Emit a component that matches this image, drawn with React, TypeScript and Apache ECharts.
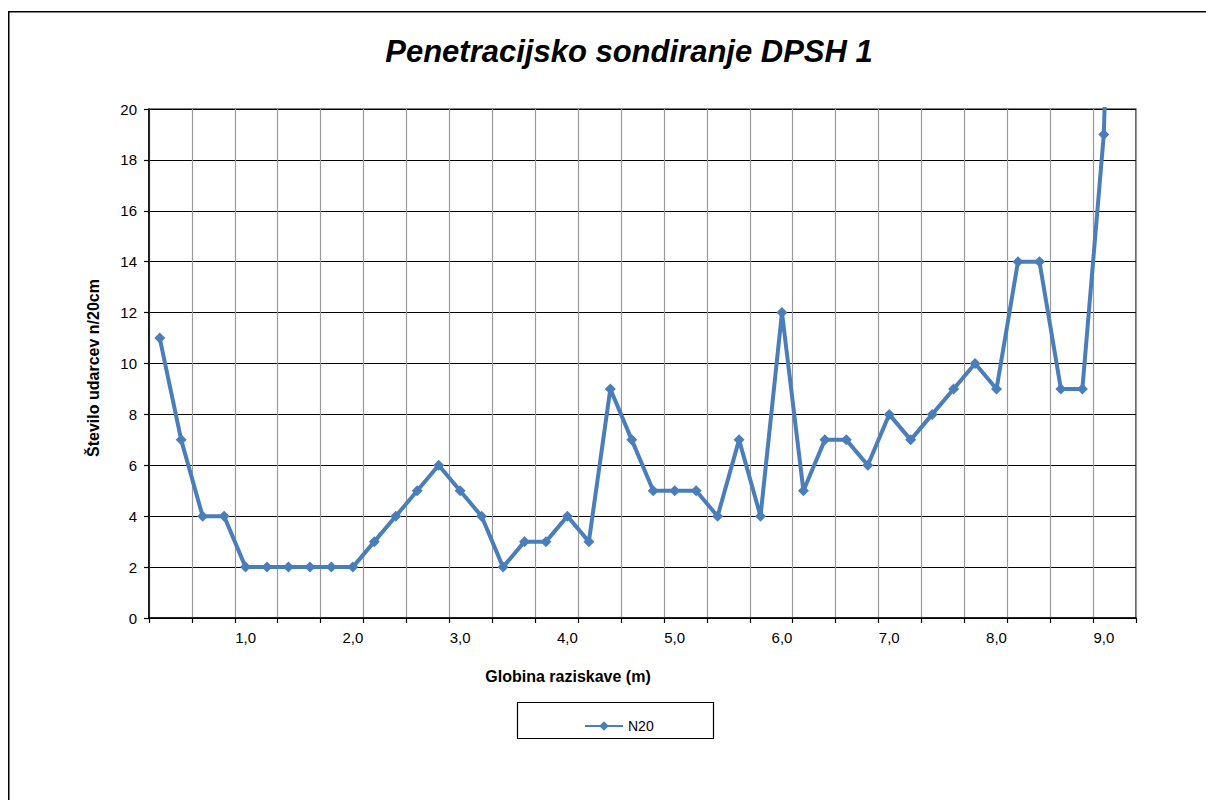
import React, { useEffect, useRef } from "react";
import * as echarts from "echarts";

const depths: number[] = [
  0.2, 0.4, 0.6, 0.8, 1.0, 1.2, 1.4, 1.6, 1.8, 2.0,
  2.2, 2.4, 2.6, 2.8, 3.0, 3.2, 3.4, 3.6, 3.8, 4.0,
  4.2, 4.4, 4.6, 4.8, 5.0, 5.2, 5.4, 5.6, 5.8, 6.0,
  6.2, 6.4, 6.6, 6.8, 7.0, 7.2, 7.4, 7.6, 7.8, 8.0,
  8.2, 8.4, 8.6, 8.8, 9.0, 9.2,
];

const n20: number[] = [
  11, 7, 4, 4, 2, 2, 2, 2, 2, 2,
  3, 4, 5, 6, 5, 4, 2, 3, 3, 4,
  3, 9, 7, 5, 5, 5, 4, 7, 4, 12,
  5, 7, 7, 6, 8, 7, 8, 9, 10, 9,
  14, 14, 9, 9, 19, 50,
];

const titleText = "Penetracijsko sondiranje DPSH 1";
const xTitle = "Globina raziskave (m)";
const yTitle = "Število udarcev n/20cm";
const seriesName = "N20";

const FONT = "'Liberation Sans', Arial, sans-serif";
const BLUE = "#4A7EBB";

export default function App() {
  const ref = useRef<HTMLDivElement>(null);

  useEffect(() => {
    document.documentElement.style.overflow = "hidden";
    document.body.style.overflow = "hidden";
    if (!ref.current) return;
    const chart = echarts.init(ref.current, undefined, { renderer: "svg" });
    const categories = depths.map((d) => d.toFixed(1).replace(".", ","));
    chart.setOption({
      animation: false,
      backgroundColor: "#ffffff",
      title: {
        text: titleText,
        left: 616,
        top: 20,
        textAlign: "center",
        textStyle: {
          fontFamily: FONT,
          fontSize: 31,
          fontWeight: "bold",
          fontStyle: "italic",
          color: "#000",
        },
      },
      grid: {
        left: 141,
        top: 98,
        right: 70,
        bottom: 182,
        show: true,
        borderColor: "#000",
        borderWidth: 1.2,
        containLabel: false,
      },
      legend: {
        data: [seriesName],
        left: 571,
        top: 703,
        itemWidth: 38,
        itemHeight: 12,
        textStyle: { fontFamily: FONT, fontSize: 14, color: "#000" },
      },
      xAxis: {
        type: "category",
        data: categories,
        boundaryGap: true,
        axisLine: { show: true, lineStyle: { color: "#000", width: 1.5 } },
        axisTick: {
          show: true,
          interval: 1,
          length: 5,
          inside: false,
          lineStyle: { color: "#000", width: 1.2 },
        },
        axisLabel: {
          interval: (index: number) => (index + 1) % 5 === 0,
          margin: 12,
          fontFamily: FONT,
          fontSize: 15,
          color: "#000",
        },
        splitLine: {
          show: true,
          interval: 1,
          lineStyle: { color: "#999999", width: 1.2 },
        },
      },
      yAxis: {
        type: "value",
        min: 0,
        max: 20,
        interval: 2,
        axisLine: { show: true, lineStyle: { color: "#000", width: 1.5 } },
        axisTick: {
          show: true,
          length: 5,
          inside: false,
          lineStyle: { color: "#000", width: 1.2 },
        },
        axisLabel: {
          margin: 12,
          fontFamily: FONT,
          fontSize: 15,
          color: "#000",
        },
        splitLine: {
          show: true,
          lineStyle: { color: "#000", width: 1.2 },
        },
      },
      series: [
        {
          name: seriesName,
          type: "line",
          data: n20,
          clip: true,
          symbol: "diamond",
          symbolSize: [11, 11],
          showSymbol: true,
          color: BLUE,
          lineStyle: { color: BLUE, width: 4 },
          itemStyle: { color: BLUE },
        },
      ],
      graphic: [
        {
          type: "line",
          shape: { x1: 0, y1: 0.75, x2: 1198, y2: 0.75 },
          style: { stroke: "#000", lineWidth: 1.5 },
          silent: true,
        },
        {
          type: "line",
          shape: { x1: 0.75, y1: 0, x2: 0.75, y2: 789 },
          style: { stroke: "#000", lineWidth: 1.5 },
          silent: true,
        },
        {
          type: "rect",
          shape: { x: 509.5, y: 691.5, width: 196, height: 36 },
          style: { fill: "none", stroke: "#000", lineWidth: 1.2 },
          silent: true,
          z: -1,
        },
        {
          type: "text",
          x: 560,
          y: 665,
          silent: true,
          style: {
            text: xTitle,
            fontFamily: FONT,
            fontSize: 16,
            fontWeight: "bold",
            fill: "#000",
            align: "center",
            verticalAlign: "middle",
          },
        },
        {
          type: "text",
          x: 85,
          y: 357,
          rotation: Math.PI / 2,
          silent: true,
          style: {
            text: yTitle,
            fontFamily: FONT,
            fontSize: 16,
            fontWeight: "bold",
            fill: "#000",
            align: "center",
            verticalAlign: "middle",
          },
        },
      ],
    });
    return () => chart.dispose();
  }, []);

  return (
    <div
      ref={ref}
      style={{ position: "fixed", left: 8, top: 11, width: 1198, height: 789 }}
    />
  );
}
